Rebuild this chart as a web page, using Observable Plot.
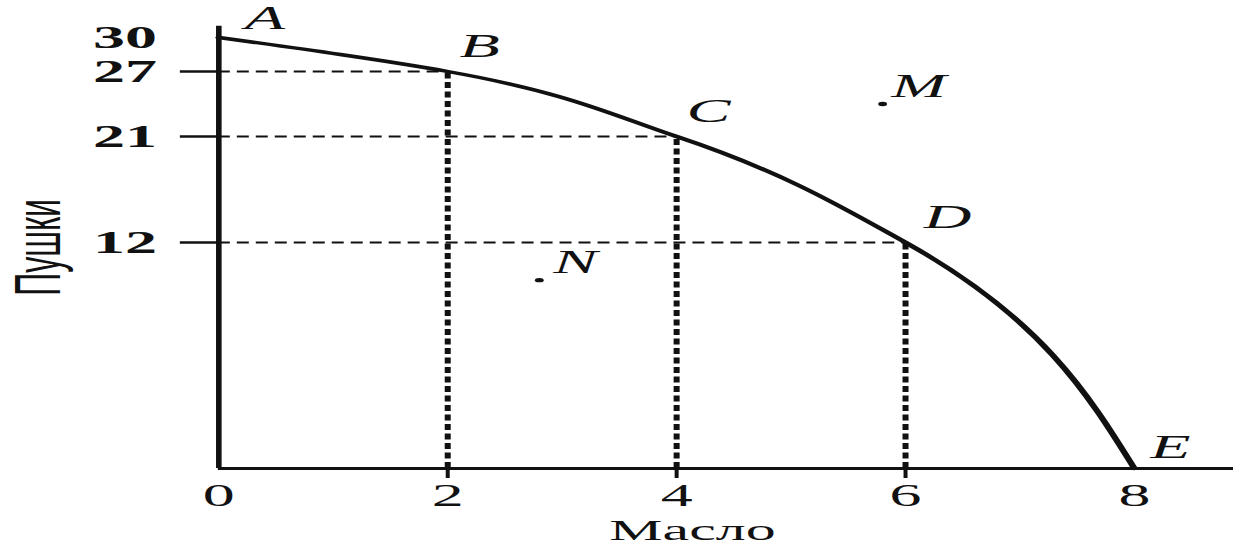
<!DOCTYPE html>
<html><head><meta charset="utf-8">
<script src="https://cdn.jsdelivr.net/npm/d3@7"></script>
<script src="https://cdn.jsdelivr.net/npm/@observablehq/plot@0.6"></script>
<style>html,body{margin:0;padding:0;background:#fff} svg{display:block}</style>
</head><body><div id="chart"></div>
<script>
// ---- data ----
const pointLabels = ["A", "B", "C", "D", "E"];
const butter = [0, 2, 4, 6, 8];          // Масло
const guns = [30, 27, 21, 12, 0];        // Пушки
const extraLabels = ["M", "N"];
const extraButter = [5.8, 2.8];
const extraGuns = [24, 10];
const xTicks = [0, 2, 4, 6, 8];
const xMarkTicks = [2, 4, 6];
const yTicks = [30, 27, 21, 12];
const yMarkTicks = [27, 21, 12];
const xMax = 8.87, yMax = 31;
const xTitle = "Масло", yTitle = "Пушки";

const pts = pointLabels.map((l, i) => ({label: l, x: butter[i], y: guns[i]}));
const extra = extraLabels.map((l, i) => ({label: l, x: extraButter[i], y: extraGuns[i]}));
const guides = pts.filter(d => d.x > 0 && d.y > 0);

// the drawn vertical axis of the original is not evenly spaced: warp it piecewise
const warp = d3.scaleLinear().domain([0, 12, 21, 27, 30]).range([0, 226, 332, 397, 431]);

// the original figure is stretched horizontally about 2x
const W = 617, H = 546, OUTW = 1233;
const ink = "#111";
const serif = "Liberation Serif, DejaVu Serif, serif";
const lab = {fontSize: 33, fontStyle: "italic", fontFamily: serif, fill: ink, x: "x", y: "y", text: "label"};

const chart = Plot.plot({
  width: W, height: H,
  marginLeft: 109, marginRight: 0, marginTop: 26, marginBottom: 78,
  x: {domain: [0, xMax]},
  y: {transform: warp, domain: [0, 442]},
  marks: [
    Plot.ruleY(guides, {y: "y", x1: 0, x2: "x", stroke: ink, strokeWidth: 2.2, strokeDasharray: "6,3.5"}),
    Plot.ruleX(guides, {x: "x", y1: 0, y2: "y", stroke: ink, strokeWidth: 3, strokeDasharray: "6,3.5"}),
    Plot.line(pts, {x: "x", y: "y", curve: "monotone-y", stroke: ink, strokeWidth: 3.4}),
    Plot.ruleX([0], {y1: 0, y2: yMax, stroke: ink, strokeWidth: 2.8}),
    Plot.ruleY([0], {x1: 0, x2: xMax, stroke: ink, strokeWidth: 3}),
    Plot.axisY(yMarkTicks, {tickSize: 19, tickFormat: () => "", strokeWidth: 2.5, stroke: ink, label: null}),
    Plot.axisY(yTicks, {tickSize: 0, tickPadding: 31, fontSize: 32, fontWeight: "bold", fontFamily: serif, fill: ink, label: null, tickFormat: d => String(d)}),
    Plot.axisX(xMarkTicks, {tickSize: 10, tickFormat: () => "", strokeWidth: 2, stroke: ink, label: null}),
    Plot.axisX(xTicks, {tickSize: 0, tickPadding: 15, fontSize: 32, fontFamily: serif, fill: ink, label: null}),
    Plot.dot(extra, {x: "x", y: "y", r: 2.2, fill: ink, stroke: null}),
    Plot.text(pts.filter(d => d.label === "A"), {...lab, dx: 23, dy: -19}),
    Plot.text(pts.filter(d => "BC".includes(d.label)), {...lab, dx: 16, dy: -25}),
    Plot.text(pts.filter(d => d.label === "D"), {...lab, dx: 21, dy: -25}),
    Plot.text(pts.filter(d => d.label === "E"), {...lab, dx: 18, dy: -21}),
    Plot.text(extra, {...lab, dx: 18, dy: -18}),
    Plot.text([yTitle], {frameAnchor: "left", textAnchor: "middle", lineAnchor: "middle", rotate: -90, dx: -89.5, fontSize: 32, fontFamily: "Liberation Sans, Arial, sans-serif", fill: ink}),
    Plot.text([xTitle], {frameAnchor: "bottom", textAnchor: "middle", lineAnchor: "middle", dx: -17, dy: 61.4, fontSize: 30, fontFamily: serif, fill: ink})
  ]
});

chart.setAttribute("width", OUTW);
chart.setAttribute("height", H);
chart.setAttribute("preserveAspectRatio", "none");
chart.style.maxWidth = "none";
chart.style.width = OUTW + "px";
chart.style.height = H + "px";
chart.style.background = "#fff";
document.getElementById("chart").appendChild(chart);
</script>
</body></html>
